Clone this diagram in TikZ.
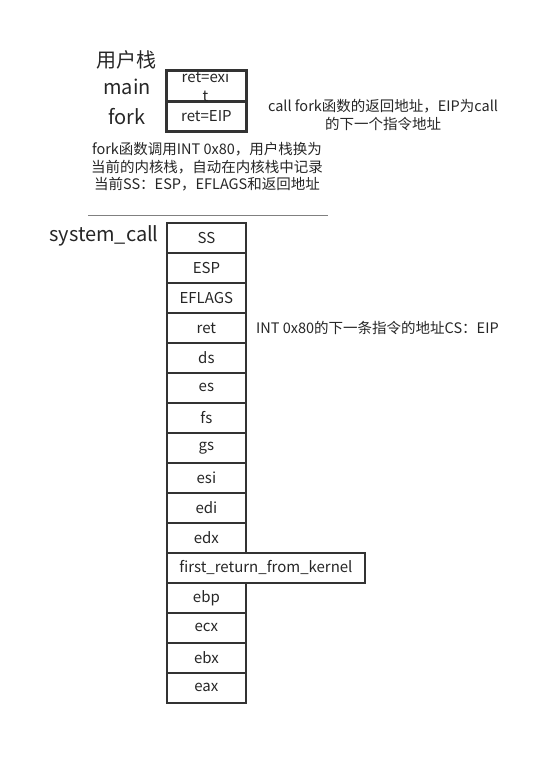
\documentclass[tikz,border=0pt]{standalone}
\usepackage{fontspec}
\setmainfont{Noto Sans CJK SC}
\begin{document}
\begin{tikzpicture}[x=1pt,y=-1pt,
  cell/.style={draw=black!80,line width=1.8pt,minimum width=79pt,minimum height=30pt,inner sep=0pt,font=\fontsize{15}{17}\selectfont,text=black!85},
  big/.style={font=\fontsize{20}{23}\selectfont,text=black!85,inner sep=0pt},
  note/.style={font=\fontsize{14.5}{17.5}\selectfont,text=black!85,inner sep=0pt,align=center}]
\useasboundingbox (0,0) rectangle (560,764);
% user stack
\node[cell,anchor=north west] (u1) at (166,70) {};
\node[cell,anchor=north west] (u2) at (166,100) {ret=EIP};
\begin{scope}
\clip (166,70) rectangle (245,100);
\node[font=\fontsize{15}{17}\selectfont,text=black!85,inner sep=0pt] (u1t) at (205.5,77) {ret=exi};
\node[font=\fontsize{15}{17}\selectfont,text=black!85,inner sep=0pt] (u1u) at (205.5,96) {t};
\end{scope}
\draw[draw=black!80,line width=1.8pt] (u1.north west) rectangle (u2.south east);
\draw[draw=black!80,line width=1.8pt] (u1.south west) -- (u1.south east);
\node[big] (lu) at (126,60) {用户栈};
\node[big] (lm) at (127,87) {main};
\node[big] (lf) at (127,117) {fork};
\node[note] (n1) at (383,115) {call fork函数的返回地址，EIP为call\\的下一个指令地址};
\node[note] (n2) at (207,167) {fork函数调用INT 0x80，用户栈换为\\当前的内核栈，自动在内核栈中记录\\当前SS：ESP，EFLAGS和返回地址};
\coordinate (s1) at (88,215);
\coordinate (s2) at (328,215);
\draw[black!50,line width=0.8pt] (s1) -- (s2);
\node[big] (ls) at (104,236) {system\_call};
% kernel stack
\foreach \t [count=\i from 0] in {SS,ESP,EFLAGS,ret,ds,es,fs,gs,esi,edi,edx} {
  \node[cell,anchor=north west] (k\i) at (166,222+30*\i) {\t};
}
\node[cell,anchor=north west,minimum width=198pt] (kf) at (166,552) {first\_return\_from\_kernel};
\foreach \t [count=\i from 12] in {ebp,ecx,ebx,eax} {
  \node[cell,anchor=north west] (k\i) at (166,222+30*\i) {\t};
}
\node[note,anchor=west] (n3) at (256,328) {INT 0x80的下一条指令的地址CS：EIP};
\end{tikzpicture}
\end{document}
